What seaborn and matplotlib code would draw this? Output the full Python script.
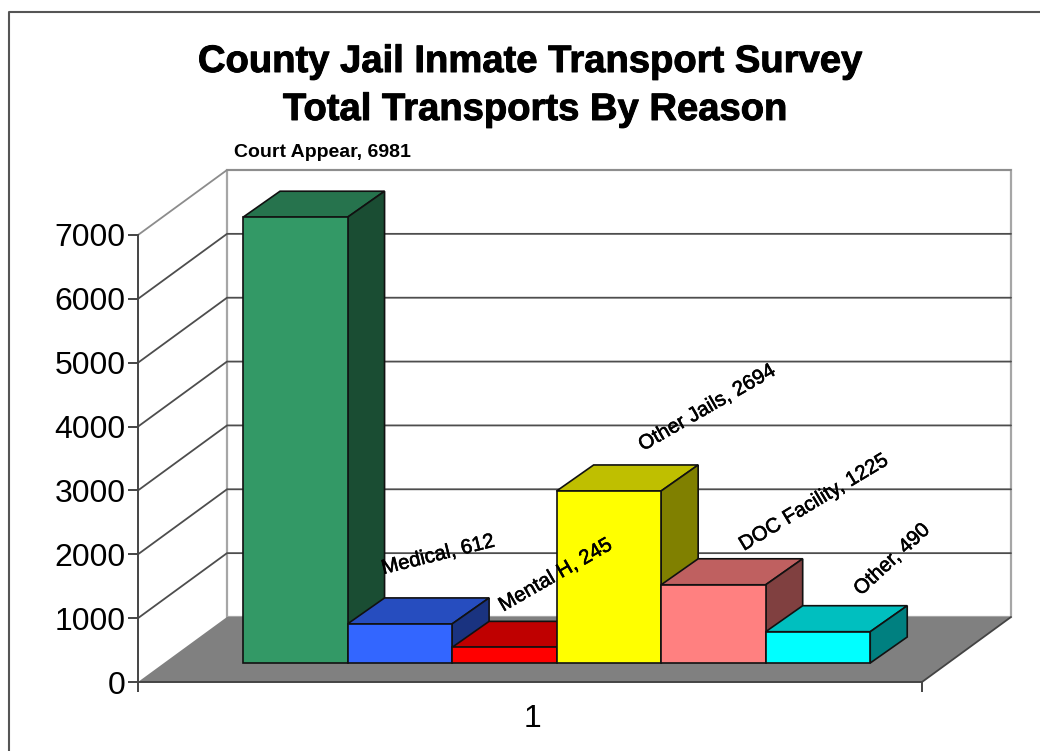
import matplotlib
matplotlib.use("Agg")
import matplotlib.pyplot as plt
import matplotlib.patheffects as pe
import seaborn as sns
from matplotlib.colors import to_rgb
from matplotlib.lines import Line2D
from matplotlib.patches import Polygon
from matplotlib.transforms import Affine2D

# data
categories = ["Court Appear", "Medical", "Mental H", "Other Jails", "DOC Facility", "Other"]
transports = [6981, 612, 245, 2694, 1225, 490]
value_ticks = [0, 1000, 2000, 3000, 4000, 5000, 6000, 7000]
group_label = "1"

bar_colors = ["#339966", "#3366ff", "#ff0000", "#ffff00", "#ff8080", "#00ffff"]

# label placement, pixels from the middle of the bar top, and rotation
label_dx = [27, 38, 51, 98, 100, 74]
label_dy = [65, 69, 72, 83, 82, 72]
label_rot = [0, 14, 30, 30, 31, 43]

sns.set_theme(style="white")
plt.rcParams["font.family"] = ["Liberation Sans", "DejaVu Sans"]

W, H = 1040, 751
fig = plt.figure(figsize=(W / 100, H / 100), dpi=100)
ax = fig.add_axes([138 / W, (H - 682) / H, 784 / W, 447 / H])

sns.barplot(x=categories, y=transports, hue=categories, palette=bar_colors,
            order=categories, hue_order=categories, width=1, saturation=1,
            legend=False, edgecolor="#111111", linewidth=1.2, ax=ax)
bars = sorted(ax.patches, key=lambda p: p.get_x())

xmin, xmax = -1.256, 6.244
ax.set_xlim(xmin, xmax)
ax.set_ylim(0, 7000)
px_x = 784 / (xmax - xmin)
px_y = 447 / 7000
wall_dx, wall_dy = 89 / px_x, 65 / px_y

# back wall, side wall and floor
ax.add_patch(Polygon([(xmin + wall_dx, wall_dy), (xmax + wall_dx, wall_dy),
                      (xmax + wall_dx, 7000 + wall_dy), (xmin + wall_dx, 7000 + wall_dy)],
                     fc="white", ec="#a6a6a6", lw=1.6, zorder=1, clip_on=False))
ax.add_patch(Polygon([(xmin, 0), (xmax, 0), (xmax + wall_dx, wall_dy), (xmin + wall_dx, wall_dy)],
                     fc="#808080", ec="none", zorder=2, clip_on=False))
ax.plot([xmax, xmax + wall_dx], [0, wall_dy], color="#444444", lw=1.3, zorder=2.2, clip_on=False)

# gridlines go round the corner
for v in value_ticks[1:]:
    c = "#8c8c8c" if v == 7000 else "#4d4d4d"
    ax.plot([xmin, xmin + wall_dx, xmax + wall_dx], [v, v + wall_dy, v + wall_dy],
            color=c, lw=1.3, zorder=3, clip_on=False)

# bars sit part way into the floor, then get their top and side faces
front = ax.transData + Affine2D().translate(26, 19)
bar_dx, bar_dy = 37 / px_x, 26 / px_y
thick = [pe.withStroke(linewidth=0.4, foreground="black")]

for i, b in enumerate(bars):
    x0, x1 = b.get_x(), b.get_x() + b.get_width()
    top = b.get_height()
    r, g, bl = to_rgb(bar_colors[i])
    z = 10 + i
    b.set_transform(front)
    b.set_zorder(z + 0.2)
    b.set_clip_on(False)
    ax.add_patch(Polygon([(x0, top), (x1, top), (x1 + bar_dx, top + bar_dy), (x0 + bar_dx, top + bar_dy)],
                         fc=(r * 0.75, g * 0.75, bl * 0.75), ec="#111111", lw=1.2,
                         transform=front, zorder=z, clip_on=False))
    ax.add_patch(Polygon([(x1, 0), (x1 + bar_dx, bar_dy), (x1 + bar_dx, top + bar_dy), (x1, top)],
                         fc=(r * 0.5, g * 0.5, bl * 0.5), ec="#111111", lw=1.2,
                         transform=front, zorder=z, clip_on=False))
    ax.annotate(f"{categories[i]}, {transports[i]}", xy=(i, top), xycoords=front,
                xytext=(label_dx[i], label_dy[i]), textcoords="offset pixels",
                ha="center", va="center", rotation=label_rot[i], rotation_mode="anchor",
                fontsize=14.7 if i else 14, fontweight="normal" if i else "bold",
                color="black", zorder=30, annotation_clip=False,
                path_effects=thick if i else None)

# axis
for s in ["top", "right"]:
    ax.spines[s].set_visible(False)
for s in ["left", "bottom"]:
    ax.spines[s].set_color("#444444")
    ax.spines[s].set_linewidth(1.4)
    ax.spines[s].set_zorder(4)
ax.patch.set_visible(False)
ax.set_xlabel("")
ax.set_ylabel("")
ax.set_yticks(value_ticks)
ax.tick_params(axis="y", left=True, length=7, width=1.4, color="#444444", labelsize=23, pad=2, labelcolor="black")
ax.set_xticks([xmin, xmax], ["", ""])
ax.tick_params(axis="x", bottom=True, length=7, width=1.4, color="#444444")
ax.set_xticks([(xmin + xmax) / 2 + 2.5 / px_x], [group_label], minor=True)
ax.tick_params(axis="x", which="minor", bottom=False, length=0, labelsize=23, pad=16, labelcolor="black")

# title, two lines
title_thick = [pe.withStroke(linewidth=0.7, foreground="black")]
fig.text(530.5 / W, 1 - 62 / H, "County Jail Inmate Transport Survey", ha="center", va="center",
         fontsize=27.5, fontweight="bold", color="black", path_effects=title_thick)
fig.text(535.5 / W, 1 - 110 / H, "Total Transports By Reason", ha="center", va="center",
         fontsize=27.5, fontweight="bold", color="black", path_effects=title_thick)

# outer frame, only top and left show in the crop
fig.add_artist(Line2D([8.5 / W, 8.5 / W, 1], [0, 1 - 12 / H, 1 - 12 / H], color="#555555", lw=1.5))

fig.savefig("out.png", dpi=100)
